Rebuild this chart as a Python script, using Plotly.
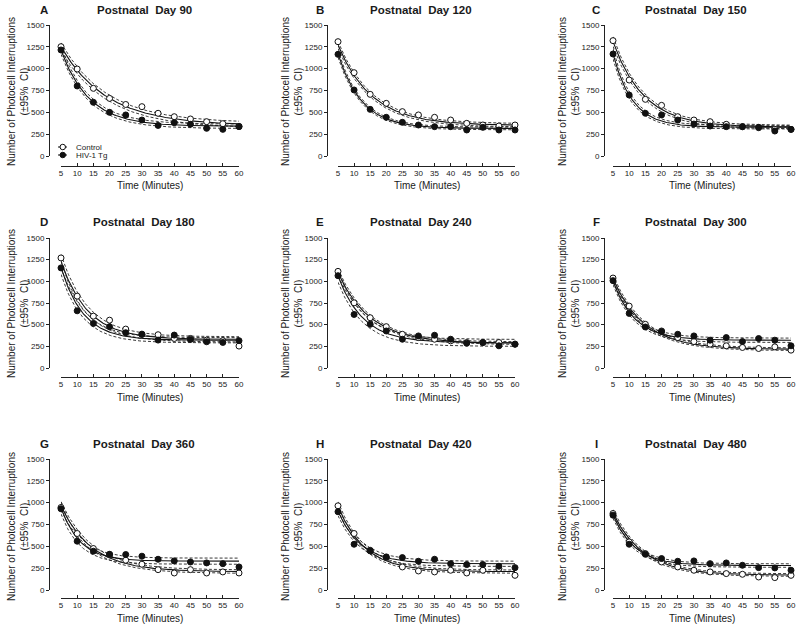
import numpy as np
import plotly.graph_objects as go

# ---------------- data ----------------
minutes = [5, 10, 15, 20, 25, 30, 35, 40, 45, 50, 55, 60]
panel_letters = ["A", "B", "C", "D", "E", "F", "G", "H", "I"]
panel_days = [90, 120, 150, 180, 240, 300, 360, 420, 480]

control_pnd90 = [1252, 996, 775, 660, 590, 565, 489, 450, 424, 393, 370, 340]
tg_pnd90 = [1214, 802, 615, 500, 470, 412, 350, 382, 363, 317, 305, 336]
control_pnd120 = [1309, 954, 706, 603, 508, 470, 443, 412, 374, 355, 343, 355]
tg_pnd120 = [1164, 756, 534, 443, 386, 355, 336, 336, 298, 328, 298, 298]
control_pnd150 = [1321, 870, 649, 580, 450, 412, 393, 363, 336, 324, 305, 305]
tg_pnd150 = [1168, 698, 489, 470, 412, 366, 343, 336, 336, 328, 286, 305]
control_pnd180 = [1270, 829, 598, 552, 449, 391, 384, 341, 341, 322, 315, 253]
tg_pnd180 = [1155, 660, 514, 476, 407, 387, 322, 380, 330, 303, 295, 315]
control_pnd240 = [1115, 752, 580, 477, 389, 351, 332, 313, 294, 294, 294, 275]
tg_pnd240 = [1065, 618, 504, 427, 332, 370, 378, 332, 286, 294, 256, 275]
control_pnd300 = [1038, 714, 504, 427, 351, 305, 275, 256, 237, 225, 244, 206]
tg_pnd300 = [1008, 630, 473, 420, 389, 370, 321, 351, 305, 340, 321, 256]
control_pnd360 = [945, 647, 475, 406, 341, 295, 233, 195, 233, 195, 207, 195]
tg_pnd360 = [930, 559, 444, 409, 406, 387, 352, 333, 321, 310, 302, 264]
control_pnd420 = [964, 647, 455, 371, 264, 218, 207, 226, 195, 226, 245, 168]
tg_pnd420 = [896, 524, 448, 379, 371, 329, 352, 302, 291, 291, 272, 256]
control_pnd480 = [876, 551, 417, 321, 264, 226, 207, 188, 180, 149, 142, 168]
tg_pnd480 = [857, 524, 409, 360, 329, 333, 302, 310, 283, 256, 253, 226]

control_series = [control_pnd90, control_pnd120, control_pnd150, control_pnd180,
                  control_pnd240, control_pnd300, control_pnd360, control_pnd420,
                  control_pnd480]
tg_series = [tg_pnd90, tg_pnd120, tg_pnd150, tg_pnd180, tg_pnd240, tg_pnd300,
             tg_pnd360, tg_pnd420, tg_pnd480]

# one-phase decay fit parameters (value at 5 min, plateau, rate constant)
fit_control_start = [1250, 1270, 1310, 1230, 1100, 1030, 960, 960, 880]
fit_control_plateau = [350, 350, 330, 330, 285, 215, 210, 210, 170]
fit_control_k = [0.071, 0.095, 0.105, 0.121, 0.100, 0.104, 0.104, 0.120, 0.106]
fit_tg_start = [1210, 1170, 1170, 1160, 1060, 1000, 940, 900, 860]
fit_tg_plateau = [340, 315, 330, 320, 290, 320, 330, 300, 280]
fit_tg_k = [0.115, 0.136, 0.166, 0.146, 0.128, 0.149, 0.168, 0.140, 0.150]
# 95% CI half widths (at start, at plateau)
ci_control_start = [45, 40, 55, 80, 40, 40, 50, 50, 40]
ci_control_plateau = [30, 20, 20, 30, 15, 15, 20, 18, 15]
ci_tg_start = [45, 40, 60, 80, 70, 40, 70, 50, 40]
ci_tg_plateau = [25, 15, 20, 30, 40, 25, 35, 30, 20]

y_ticks = [0, 250, 500, 750, 1000, 1250, 1500]
legend_labels = ["Control", "HIV-1 Tg"]

# ---------------- layout geometry (pixels) ----------------
W, H = 800, 630
col_yaxis_px = [49, 327, 604]
col_x_px = [(61, 239), (338, 515), (613, 791)]
row_y_px = [(25, 156), (238, 368), (459, 590)]  # (1500 px, 0 px)
row_xaxis_px = [166, 377, 598]

FONT = "Arial, Liberation Sans, sans-serif"
TXT = "#1a1a1a"

fig = go.Figure()
layout = dict(
    width=W, height=H, margin=dict(l=0, r=0, t=0, b=0, autoexpand=False),
    paper_bgcolor="white", plot_bgcolor="white",
    font=dict(family=FONT, color=TXT, size=8),
    showlegend=False,
)
annotations = []
shapes = []

xfit = np.linspace(5, 60, 166)


def decay(start, plateau, k):
    return plateau + (start - plateau) * np.exp(-k * (xfit - 5))


def px_x(v):
    return v / W


def px_y(v):
    return 1 - v / H


for i in range(9):
    r, c = divmod(i, 3)
    n = "" if i == 0 else str(i + 1)
    xa, ya = "x" + n, "y" + n
    x0, x1 = col_x_px[c]
    ytop, ybot = row_y_px[r]
    layout["xaxis" + n] = dict(
        domain=[px_x(x0), px_x(x1)], range=[5, 60], anchor="free",
        position=px_y(row_xaxis_px[r]), automargin=False,
        tickvals=minutes, ticks="inside", ticklen=3, tickwidth=1,
        tickcolor="#222", showline=True, linecolor="#222", linewidth=1,
        showgrid=False, zeroline=False, tickfont=dict(size=8, color=TXT),
        ticklabelstandoff=-1, fixedrange=True,
    )
    layout["yaxis" + n] = dict(
        domain=[px_y(ybot), px_y(ytop)], range=[0, 1500], anchor="free",
        position=px_x(col_yaxis_px[c]), automargin=False,
        tickvals=y_ticks, ticks="outside", ticklen=3, tickwidth=1,
        tickcolor="#222", showline=True, linecolor="#222", linewidth=1,
        showgrid=False, zeroline=False, tickfont=dict(size=8, color=TXT),
        fixedrange=True,
    )

    groups = [
        (fit_control_start[i], fit_control_plateau[i], fit_control_k[i],
         ci_control_start[i], ci_control_plateau[i]),
        (fit_tg_start[i], fit_tg_plateau[i], fit_tg_k[i],
         ci_tg_start[i], ci_tg_plateau[i]),
    ]
    for (s, p, k, cs, cp) in groups:
        for sgn in (1, -1):
            fig.add_trace(go.Scatter(
                x=xfit, y=decay(s + sgn * cs, p + sgn * cp, k), mode="lines",
                line=dict(color="#222", width=0.9, dash="3px,2px"),
                xaxis=xa, yaxis=ya, showlegend=False, hoverinfo="skip"))
        fig.add_trace(go.Scatter(
            x=xfit, y=decay(s, p, k), mode="lines",
            line=dict(color="#111", width=1.1),
            xaxis=xa, yaxis=ya, showlegend=False, hoverinfo="skip"))

    fig.add_trace(go.Scatter(
        x=minutes, y=control_series[i], mode="markers", cliponaxis=False,
        marker=dict(symbol="circle", size=6, color="white",
                    line=dict(color="#111", width=1)),
        xaxis=xa, yaxis=ya, showlegend=False, name=legend_labels[0]))
    fig.add_trace(go.Scatter(
        x=minutes, y=tg_series[i], mode="markers", cliponaxis=False,
        marker=dict(symbol="circle", size=6, color="#111",
                    line=dict(color="#111", width=1)),
        xaxis=xa, yaxis=ya, showlegend=False, name=legend_labels[1]))

    # titles
    ty = [10, 222, 444][r]
    annotations.append(dict(
        x=px_x([144, 421, 696][c]), y=px_y(ty), xref="paper", yref="paper",
        text="<b>Postnatal  Day %d</b>" % panel_days[i], showarrow=False,
        font=dict(size=11.5, color=TXT), xanchor="center", yanchor="middle"))
    annotations.append(dict(
        x=px_x([44, 320, 596][c]), y=px_y(ty), xref="paper", yref="paper",
        text="<b>%s</b>" % panel_letters[i], showarrow=False,
        font=dict(size=11.5, color=TXT), xanchor="center", yanchor="middle"))
    # x label
    annotations.append(dict(
        x=px_x([150, 427, 702][c]), y=px_y([185, 397, 618][r]),
        xref="paper", yref="paper", text="Time (Minutes)", showarrow=False,
        font=dict(size=10, color=TXT), xanchor="center", yanchor="middle"))
    # y label
    annotations.append(dict(
        x=px_x([18, 292, 569][c]), y=px_y([92, 304, 527][r]),
        xref="paper", yref="paper",
        text="Number of Photocell Interruptions<br>(±95%  CI)",
        showarrow=False, textangle=-90, align="center",
        font=dict(size=10, color=TXT), xanchor="center", yanchor="middle"))

# manual legend in panel A (decoration only)
legend_rows_px = [147, 155]
legend_fill = ["white", "#111"]
for lbl, ly, fill in zip(legend_labels, legend_rows_px, legend_fill):
    shapes.append(dict(type="line", xref="paper", yref="paper",
                       x0=px_x(58), x1=px_x(67), y0=px_y(ly), y1=px_y(ly),
                       line=dict(color="#111", width=1)))
    shapes.append(dict(type="circle", xref="paper", yref="paper",
                       x0=px_x(60), x1=px_x(65.5), y0=px_y(ly + 2.75),
                       y1=px_y(ly - 2.75),
                       fillcolor=fill, line=dict(color="#111", width=1)))
    annotations.append(dict(
        x=px_x(74), y=px_y(ly), xref="paper", yref="paper", text=lbl,
        showarrow=False, font=dict(size=8, color=TXT),
        xanchor="left", yanchor="middle"))

layout["annotations"] = annotations
layout["shapes"] = shapes
fig.update_layout(**layout)
fig.write_html("out.html",
               config={"displayModeBar": False},
               post_script="document.body.style.margin='0px';"
                           "document.body.style.overflow='hidden';")
